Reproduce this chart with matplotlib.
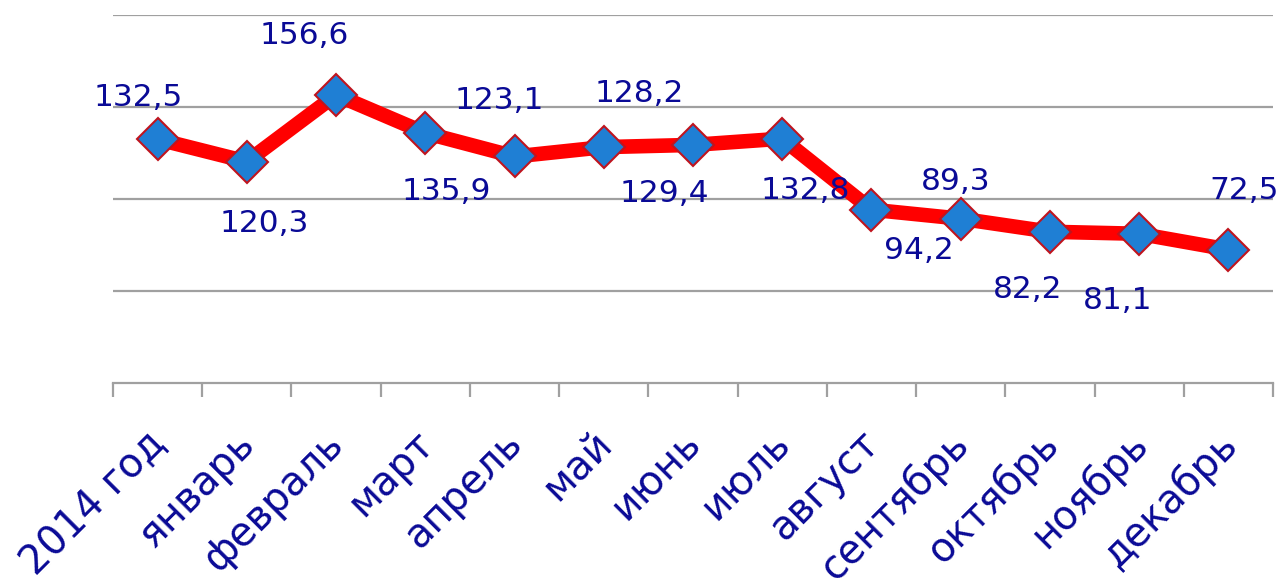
import numpy as np
import matplotlib.pyplot as plt
from matplotlib.transforms import ScaledTranslation

# categories and values
months = ['2014 год', 'январь', 'февраль', 'март', 'апрель', 'май', 'июнь',
          'июль', 'август', 'сентябрь', 'октябрь', 'ноябрь', 'декабрь']
values = [132.5, 120.3, 156.6, 135.9, 123.1, 128.2, 129.4,
          132.8, 94.2, 89.3, 82.2, 81.1, 72.5]

# label offsets (pixels) from each point, as placed in the original
label_dx = [-19, 17, -32, 21, -15, 35, -29, 23, 47, -5, -22, -22, 16]
label_dy = [42, -62, 59, -59, 56, 54, -49, -52, -41, 37, -58, -67, 59]

text_color = '#0a0a96'
grid_color = '#a0a0a0'

fig = plt.figure(figsize=(12.82, 5.78), dpi=100)
ax = fig.add_axes([113 / 1282, 1 - 383 / 578, 1160 / 1282, 368 / 578])

x = np.arange(len(months))
ax.plot(x, values, color='#ff0000', lw=10.5, solid_joinstyle='round', zorder=3)
ax.plot(x, values, ls='none', marker='D', markersize=21,
        markerfacecolor='#1f7fd4', markeredgecolor='#c0141e',
        markeredgewidth=1.5, zorder=4)

for xi, v, dx, dy in zip(x, values, label_dx, label_dy):
    ax.annotate(f'{v:.1f}'.replace('.', ','), (xi, v),
                xytext=(dx * 0.72, dy * 0.72), textcoords='offset points',
                ha='center', va='center', fontsize=22.5, color=text_color,
                zorder=5)

ax.set_xlim(-0.5, len(months) - 0.5)
ax.set_ylim(0, 200)
ax.set_yticks([50, 100, 150, 200])
ax.yaxis.grid(True, color=grid_color, lw=1.6)
ax.tick_params(axis='y', left=False, labelleft=False)

ax.set_xticks(x)
ax.set_xticklabels(months, rotation=45, ha='right', rotation_mode='anchor',
                   fontsize=28.5, color=text_color)
ax.set_xticks(np.arange(-0.5, len(months)), minor=True)
ax.tick_params(axis='x', which='major', length=0, pad=29)
ax.tick_params(axis='x', which='minor', length=10, width=1.6,
               color=grid_color)

# nudge the month labels a bit to the left, as in the original
shift = ScaledTranslation(-12 / 100, 0, fig.dpi_scale_trans)
for lab in ax.get_xticklabels():
    lab.set_transform(lab.get_transform() + shift)

for s in ['left', 'right', 'top']:
    ax.spines[s].set_visible(False)
ax.spines['bottom'].set_color(grid_color)
ax.spines['bottom'].set_linewidth(1.6)
ax.set_axisbelow(True)

fig.savefig('out.png', dpi=100)
